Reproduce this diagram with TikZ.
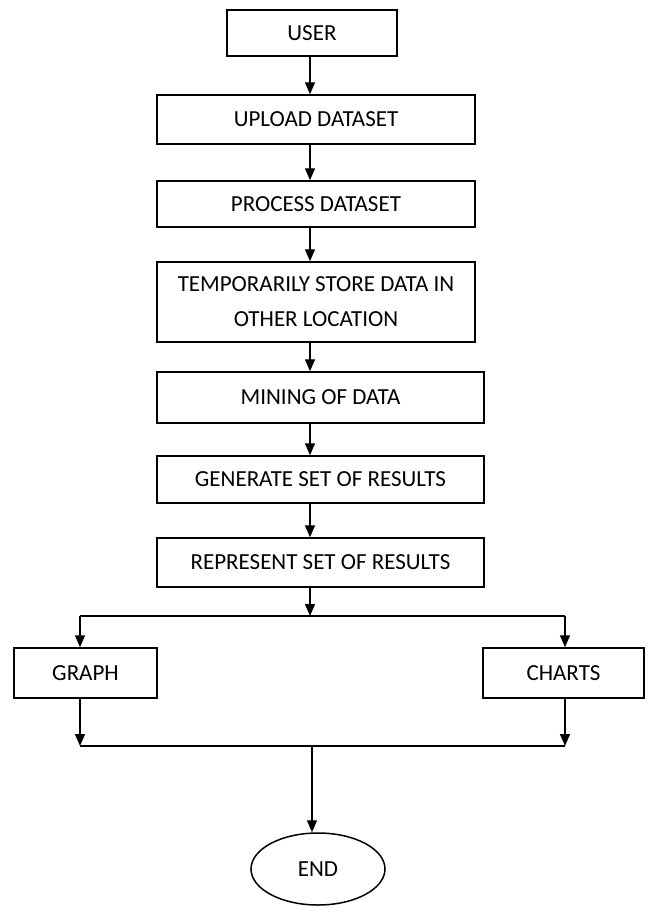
\documentclass[tikz,border=0pt]{standalone}
\usepackage{fontspec}
\setmainfont{Carlito}
\usetikzlibrary{arrows.meta,shapes.geometric}
\begin{document}
\begin{tikzpicture}[x=1pt,y=-1pt,
  box/.style={draw, line width=1.5pt, inner sep=0pt, align=center,
    font=\fontsize{23}{35}\selectfont},
  arr/.style={line width=1.4pt, -{Triangle[width=10pt,length=12pt]}},
  ln/.style={line width=1.4pt}]
\useasboundingbox (0,0) rectangle (650,906);
\node[box, minimum width=170pt, minimum height=46pt] (user) at (312,33) {USER};
\node[box, minimum width=318pt, minimum height=49pt] (upload) at (316,119.5) {UPLOAD DATASET};
\node[box, minimum width=318pt, minimum height=46pt] (process) at (316,204) {PROCESS DATASET};
\node[box, minimum width=318pt, minimum height=80pt] (temp) at (316,302) {TEMPORARILY STORE DATA IN\\OTHER LOCATION};
\node[box, minimum width=327pt, minimum height=51pt] (mining) at (320.5,397.5) {MINING OF DATA};
\node[box, minimum width=327pt, minimum height=47pt] (generate) at (320.5,479.5) {GENERATE SET OF RESULTS};
\node[box, minimum width=327pt, minimum height=49pt] (represent) at (320.5,562.5) {REPRESENT SET OF RESULTS};
\node[box, minimum width=143pt, minimum height=50pt] (graph) at (85.5,673) {GRAPH};
\node[box, minimum width=161pt, minimum height=50pt] (charts) at (563.5,673) {CHARTS};
\node[box, ellipse, minimum width=134pt, minimum height=72pt] (end) at (318,869) {END};
\coordinate (ax) at (310,0);
\coordinate (split) at (310,616);
\coordinate (sl) at (80,616);
\coordinate (sr) at (565,616);
\coordinate (ml) at (80,746);
\coordinate (mr) at (565,746);
\coordinate (mc) at (312,746);
\draw[arr] (user.south -| ax) -- (upload.north -| ax);
\draw[arr] (upload.south -| ax) -- (process.north -| ax);
\draw[arr] (process.south -| ax) -- (temp.north -| ax);
\draw[arr] (temp.south -| ax) -- (mining.north -| ax);
\draw[arr] (mining.south -| ax) -- (generate.north -| ax);
\draw[arr] (generate.south -| ax) -- (represent.north -| ax);
\draw[arr] (represent.south -| ax) -- (split);
\draw[ln] (sl) -- (sr);
\draw[arr] (sl) -- (sl |- graph.north);
\draw[arr] (sr) -- (sr |- charts.north);
\draw[arr] (ml |- graph.south) -- (ml);
\draw[arr] (mr |- charts.south) -- (mr);
\draw[ln] (ml) -- (mr);
\draw[arr] (mc) -- (mc |- end.north);
\end{tikzpicture}
\end{document}
